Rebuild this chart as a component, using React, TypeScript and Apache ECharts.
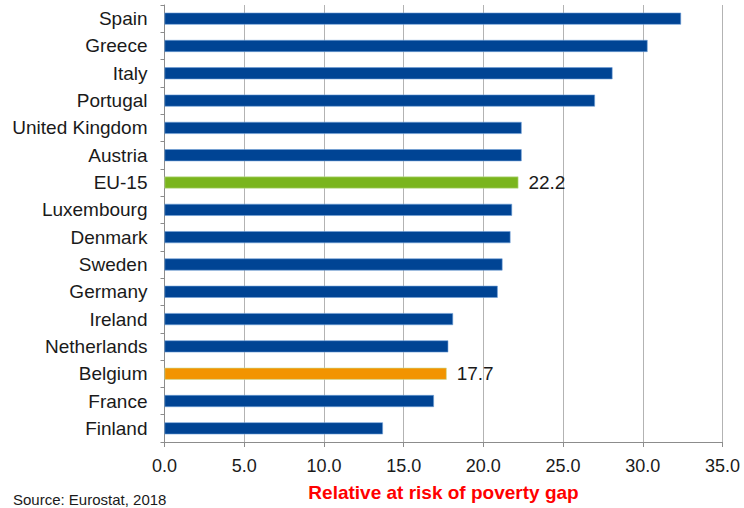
import React, { useEffect, useRef } from "react";
import * as echarts from "echarts";

const countries = [
  "Spain", "Greece", "Italy", "Portugal", "United Kingdom", "Austria", "EU-15",
  "Luxembourg", "Denmark", "Sweden", "Germany", "Ireland", "Netherlands",
  "Belgium", "France", "Finland",
];
const gapValues = [32.4, 30.3, 28.1, 27.0, 22.4, 22.4, 22.2, 21.8, 21.7, 21.2, 20.9, 18.1, 17.8, 17.7, 16.9, 13.7];
const highlighted: Record<string, string> = { "EU-15": "#7ab51d", Belgium: "#f29400" };
const labelled = ["EU-15", "Belgium"];
const xTitle = "Relative at risk of poverty gap";
const sourceNote = "Source: Eurostat, 2018";

const FONT = "'Liberation Sans', Arial, sans-serif";

export default function App() {
  const ref = useRef<HTMLDivElement>(null);
  useEffect(() => {
    if (!ref.current) return;
    const chart = echarts.init(ref.current, undefined, { renderer: "svg" });
    chart.setOption({
      animation: false,
      backgroundColor: "#ffffff",
      grid: { left: 164.5, right: 21.5, top: 5, bottom: 66, containLabel: false },
      xAxis: {
        type: "value",
        min: 0,
        max: 35,
        interval: 5,
        name: xTitle,
        nameLocation: "middle",
        nameGap: 41,
        nameTextStyle: { color: "#ff0000", fontWeight: "bold", fontSize: 19, fontFamily: FONT },
        axisLine: { show: true, lineStyle: { color: "#8c8c8c", width: 1 } },
        axisTick: { show: true, length: 5, lineStyle: { color: "#8c8c8c" } },
        axisLabel: {
          color: "#1a1a1a",
          fontSize: 18,
          fontFamily: FONT,
          margin: 15,
          formatter: (v: number) => v.toFixed(1),
        },
        splitLine: { show: true, lineStyle: { color: "#b3b3b3", width: 1 } },
      },
      yAxis: {
        type: "category",
        data: countries,
        inverse: true,
        axisLine: { show: true, lineStyle: { color: "#8c8c8c", width: 1 } },
        axisTick: { show: true, length: 4, lineStyle: { color: "#8c8c8c" } },
        axisLabel: { color: "#1a1a1a", fontSize: 19, fontFamily: FONT, margin: 17 },
      },
      series: [
        {
          type: "bar",
          barWidth: 12,
          data: countries.map((c, i) => ({
            value: gapValues[i],
            itemStyle: {
              color: highlighted[c] || "#004494",
              borderColor: highlighted[c] ? "#c8e0a0" : "#6f9fd6",
              borderWidth: 0.6,
            },
            label: {
              show: labelled.includes(c),
              position: "right",
              distance: 10,
              color: "#1a1a1a",
              fontSize: 19,
              fontFamily: FONT,
              formatter: (p: any) => Number(p.value).toFixed(1),
            },
          })),
        },
      ],
      graphic: [
        {
          type: "text",
          left: 13,
          top: 492,
          style: { text: sourceNote, fill: "#1a1a1a", fontSize: 15, fontFamily: FONT },
        },
      ],
    });
    return () => chart.dispose();
  }, []);
  return <div ref={ref} style={{ width: 744, height: 508, position: "absolute", left: 0, top: 0 }} />;
}
